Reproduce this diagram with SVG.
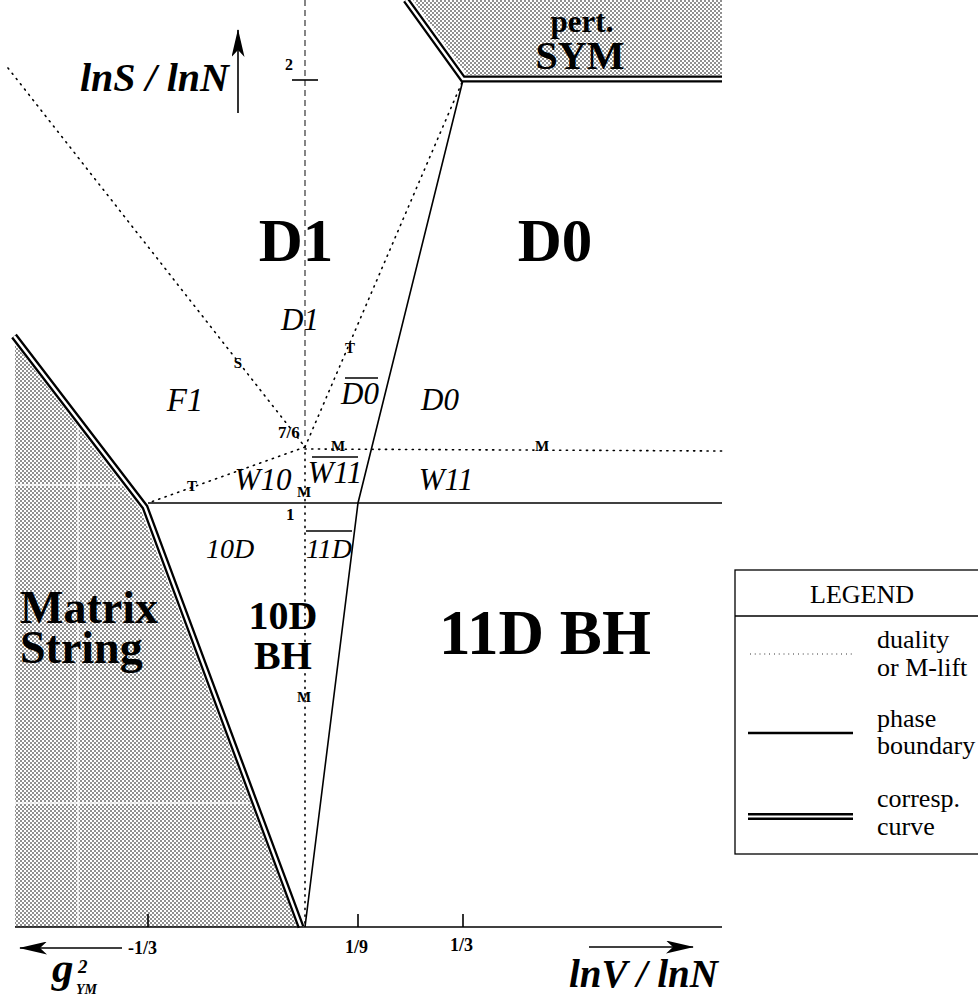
<svg xmlns="http://www.w3.org/2000/svg" width="978" height="1001" viewBox="0 0 978 1001">
<style>
.thin{fill:none;stroke:#000;stroke-width:1.6}
.dot{fill:none;stroke:#000;stroke-width:1.6;stroke-dasharray:1.2 5.5;stroke-linecap:round}
.dash{fill:none;stroke:#444;stroke-width:1.3;stroke-dasharray:6 4}
.dblo{fill:none;stroke:#000;stroke-width:7;stroke-linejoin:miter}
.dbli{fill:none;stroke:#fff;stroke-width:2.4;stroke-linejoin:miter}
.big{font-family:"Liberation Serif",serif;font-weight:bold;fill:#000}
.it{font-family:"Liberation Serif",serif;font-style:italic;fill:#000}
.sm{font-family:"Liberation Serif",serif;font-weight:bold;fill:#000;font-size:15px}
.tk{font-family:"Liberation Serif",serif;font-weight:bold;fill:#000}
.ax{font-family:"Liberation Serif",serif;font-weight:bold;font-style:italic;fill:#000}
.lg{font-family:"Liberation Serif",serif;fill:#000;font-size:26px}
</style>
<defs>
<pattern id="hatch" width="4" height="4" patternUnits="userSpaceOnUse">
<rect width="4" height="4" fill="#ffffff"/>
<rect x="0" y="0" width="2" height="2" fill="#909090"/>
<rect x="2" y="2" width="2" height="2" fill="#909090"/>
</pattern>
<marker id="ah" viewBox="0 0 28 13" refX="27" refY="6.5" markerWidth="28" markerHeight="13" markerUnits="userSpaceOnUse" orient="auto">
<path d="M0,0 L28,6.5 L0,13 L7,6.5 Z" fill="#000"/>
</marker>
</defs>
<rect width="978" height="1001" fill="#fff"/>

<g id="regions">
<polygon id="matrix-shade" points="15,344 141,510 297,927 15,927" fill="url(#hatch)"/>
<polygon id="sym-shade" points="413,0 467,75 722,75 722,0" fill="url(#hatch)"/>
<g stroke="#fff" stroke-width="1.3" fill="none">
<line x1="78" y1="424" x2="78" y2="927"/>
<line x1="15" y1="485" x2="130" y2="485"/>
<line x1="15" y1="803" x2="250" y2="803"/>
</g>
</g>

<g id="connectors">
<line class="dash" x1="305" y1="0" x2="305" y2="440"/>
<line class="dot" x1="305" y1="446" x2="305" y2="927"/>
<line class="dot" x1="8" y1="68" x2="305" y2="447"/>
<line class="dot" x1="305" y1="447" x2="463" y2="80"/>
<line class="dot" x1="305" y1="447" x2="148" y2="503"/>
<line class="dot" x1="305" y1="449" x2="722" y2="451"/>
<line class="thin" x1="148" y1="503" x2="722" y2="503"/>
<polyline class="thin" points="463,80 358,503 305,927"/>
<polyline class="dblo" points="14,336 145,507 301,927"/>
<polyline class="dbli" points="14,336 145,507 301,927"/>
<polyline class="dblo" points="406,0 463,79 722,79"/>
<polyline class="dbli" points="406,0 463,79 722,79"/>
<line class="thin" x1="15" y1="927" x2="722" y2="927"/>
<line class="thin" x1="148" y1="914" x2="148" y2="927"/>
<line class="thin" x1="358" y1="914" x2="358" y2="927"/>
<line class="thin" x1="463" y1="914" x2="463" y2="927"/>
<line class="thin" x1="292" y1="80" x2="318" y2="80"/>
<line class="thin" x1="122" y1="948" x2="20" y2="948" marker-end="url(#ah)"/>
<line class="thin" x1="589" y1="947" x2="693" y2="947" marker-end="url(#ah)"/>
<line class="thin" x1="238" y1="113" x2="238" y2="30" marker-end="url(#ah)"/>
</g>

<g id="axis-labels">
<text class="ax" x="80" y="91" style="font-size:40px">lnS / lnN</text>
<text class="ax" x="569" y="987" style="font-size:39px">lnV / lnN</text>
<text class="ax" x="52" y="982" style="font-size:43px">g</text>
<text class="ax" x="78" y="973" style="font-size:19px">2</text>
<text class="ax" x="76" y="994" style="font-size:14px">YM</text>
<text class="tk" x="285" y="70" style="font-size:16px">2</text>
<text class="tk" x="128" y="954" style="font-size:18px">-1/3</text>
<text class="tk" x="345" y="953" style="font-size:18px">1/9</text>
<text class="tk" x="450" y="951" style="font-size:18px">1/3</text>
<text class="tk" x="278" y="438" style="font-size:17px">7/6</text>
<text class="tk" x="286" y="520" style="font-size:17px">1</text>
</g>

<g id="node-D1-big"><text class="big" x="296" y="261" style="font-size:61px" text-anchor="middle">D1</text></g>
<g id="node-D0-big"><text class="big" x="555" y="261" style="font-size:61px" text-anchor="middle">D0</text></g>
<g id="node-SYM"><text class="big" x="582" y="32" style="font-size:31px" text-anchor="middle">pert.</text><text class="big" x="580" y="69" style="font-size:40px" text-anchor="middle">SYM</text></g>
<g id="node-Matrix"><text class="big" x="20" y="623" style="font-size:46px">Matrix</text><text class="big" x="20" y="663" style="font-size:46px">String</text></g>
<g id="node-10DBH"><text class="big" x="283" y="629" style="font-size:40px" text-anchor="middle">10D</text><text class="big" x="283" y="669" style="font-size:40px" text-anchor="middle">BH</text></g>
<g id="node-11DBH"><text class="big" x="545" y="654" style="font-size:63px" text-anchor="middle">11D BH</text></g>

<g id="node-D1"><text class="it" x="300" y="330" style="font-size:31px" text-anchor="middle">D1</text></g>
<g id="node-F1"><text class="it" x="185" y="411" style="font-size:33px" text-anchor="middle">F1</text></g>
<g id="node-D0bar"><text class="it" x="360" y="404" style="font-size:31px" text-anchor="middle">D0</text><line x1="345" y1="378" x2="378" y2="378" stroke="#000" stroke-width="1.6"/></g>
<g id="node-D0"><text class="it" x="440" y="410" style="font-size:31px" text-anchor="middle">D0</text></g>
<g id="node-W10"><text class="it" x="263" y="490" style="font-size:31px" text-anchor="middle">W10</text></g>
<g id="node-W11bar"><text class="it" x="335" y="483" style="font-size:31px" text-anchor="middle">W11</text><line x1="312" y1="457" x2="358" y2="457" stroke="#000" stroke-width="1.6"/></g>
<g id="node-W11"><text class="it" x="446" y="490" style="font-size:31px" text-anchor="middle">W11</text></g>
<g id="node-10D"><text class="it" x="230" y="558" style="font-size:28px" text-anchor="middle">10D</text></g>
<g id="node-11Dbar"><text class="it" x="329" y="558" style="font-size:28px" text-anchor="middle">11D</text><line x1="306" y1="531" x2="352" y2="531" stroke="#000" stroke-width="1.6"/></g>

<g id="markers">
<text class="sm" x="350" y="353" text-anchor="middle">T</text>
<text class="sm" x="238" y="368" text-anchor="middle">S</text>
<text class="sm" x="338" y="451" text-anchor="middle">M</text>
<text class="sm" x="542" y="451" text-anchor="middle">M</text>
<text class="sm" x="192" y="491" text-anchor="middle">T</text>
<text class="sm" x="304" y="497" text-anchor="middle">M</text>
<text class="sm" x="304" y="702" text-anchor="middle">M</text>
</g>

<g id="legend">
<rect x="735" y="570" width="265" height="284" fill="#fff" stroke="#000" stroke-width="1.3"/>
<line x1="735" y1="616" x2="978" y2="616" stroke="#000" stroke-width="1.3"/>
<text class="lg" x="862" y="603" text-anchor="middle">LEGEND</text>
<line x1="750" y1="654" x2="853" y2="654" stroke="#000" stroke-width="1" stroke-dasharray="0.8 4" fill="none"/>
<text class="lg" x="877" y="648">duality</text>
<text class="lg" x="877" y="676">or M-lift</text>
<line x1="748" y1="733" x2="853" y2="733" stroke="#000" stroke-width="2.4"/>
<text class="lg" x="877" y="727">phase</text>
<text class="lg" x="877" y="754">boundary</text>
<line x1="748" y1="816.5" x2="853" y2="816.5" stroke="#000" stroke-width="7"/>
<line x1="748" y1="816.5" x2="853" y2="816.5" stroke="#fff" stroke-width="2"/>
<text class="lg" x="877" y="807">corresp.</text>
<text class="lg" x="877" y="835">curve</text>
</g>
</svg>
